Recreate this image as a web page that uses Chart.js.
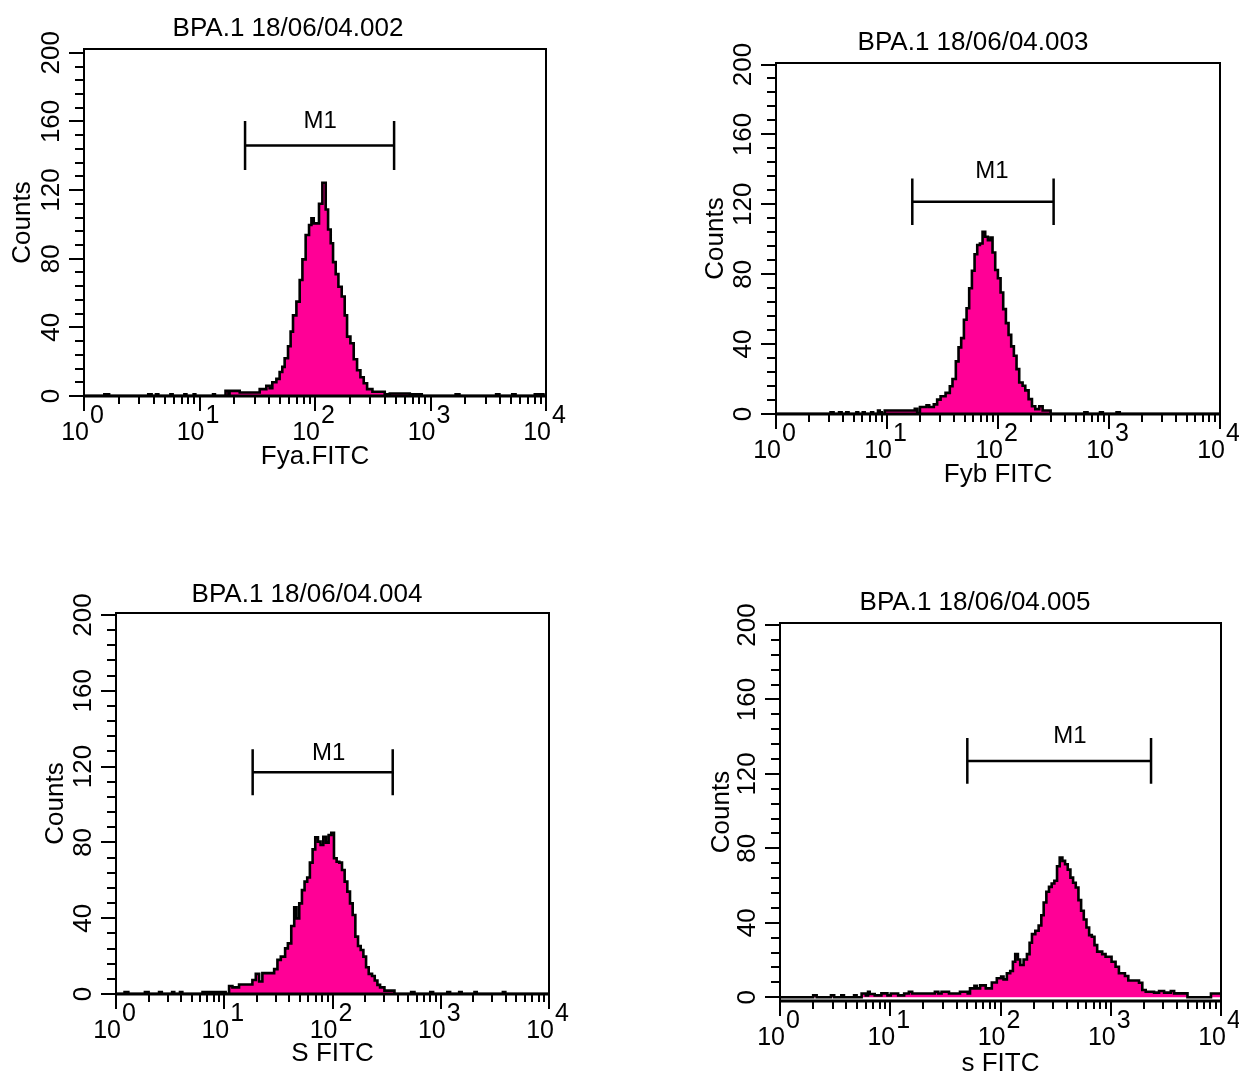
<!DOCTYPE html>
<html>
<head>
<meta charset="utf-8">
<script src="https://cdn.jsdelivr.net/npm/chart.js@4.4.0/dist/chart.umd.min.js"></script>
<style>
html, body { margin: 0; padding: 0; background: #fff; overflow: hidden; width: 1239px; height: 1076px; }
canvas { position: absolute; }
</style>
</head>
<body>
<canvas id="c1"></canvas>
<canvas id="c2"></canvas>
<canvas id="c3"></canvas>
<canvas id="c4"></canvas>
<script>
// ---------------- DATA ----------------
const panelTitles = ['BPA.1 18/06/04.002', 'BPA.1 18/06/04.003', 'BPA.1 18/06/04.004', 'BPA.1 18/06/04.005'];
const xAxisTitles = ['Fya.FITC', 'Fyb FITC', 'S FITC', 's FITC'];
const yAxisTitle = 'Counts';
const yTickValues = [0, 40, 80, 120, 160, 200];
const yMinorTickValues = [0, 8, 16, 24, 32, 40, 48, 56, 64, 72, 80, 88, 96, 104, 112, 120, 128, 136, 144, 152, 160, 168, 176, 184, 192, 200];
const xTickPowers = [0, 1, 2, 3, 4];
const xMinorMultipliers = [2, 3, 4, 5, 6, 7, 8, 9];

// Panel 1: Fya FITC (fluorescence channel value, counts)
const fyaX = [1, 1.5, 1.65, 3.6, 3.85, 4.2, 4.4, 5.6, 5.85, 7.4,
  7.7, 8.9, 9.2, 13.1, 13.6, 16.8, 17.8, 18.2, 22.3, 29.0,
  33.2, 37.9, 40.5, 42.7, 46.3, 49.4, 52.1, 54.6, 58.4, 61.5,
  64.5, 69.0, 73.7, 77.8, 83.0, 88.8, 93.1, 97.5, 108.3, 115.8,
  123.8, 129.8, 136.8, 143.3, 151.1, 159.5, 170.3, 180.8, 189.5, 202.6,
  216.4, 231.3, 247.3, 264.2, 282.5, 314.2, 401.6, 444, 662, 840,
  1650, 1780, 3700, 3950, 5100, 5450, 8000, 8600, 9000, 9500, 10000];
const fyaY = [0, 1, 0, 1, 0, 1, 0, 1, 0, 1,
  0, 1, 0, 1, 0, 3, 1, 3, 2, 2,
  4, 6, 4.5, 8, 10, 14, 17, 22, 29, 37.5,
  47, 55, 67.6, 79.6, 93.8, 99.6, 103.5, 100.6, 112, 124.3,
  108.7, 97, 89, 78, 71, 63.7, 58, 47, 34.6, 30.7,
  21.4, 15, 10.9, 7.4, 4, 2.5, 1, 1.5, 1, 0,
  1, 0, 1, 0, 1, 0, 1, 0, 1, 0, 0];

// Panel 2: Fyb FITC
const fybX = [1, 3.1, 3.3, 3.7, 3.9, 4.3, 4.5, 5.3, 5.5, 6.05,
  6.3, 7.2, 7.5, 8.3, 8.61, 8.98, 9.55, 17.8, 18.7, 19.8,
  22.7, 24.0, 26.4, 28.3, 30.4, 33.7, 36.8, 38.9, 41.7, 44.1,
  46.6, 49.3, 52.1, 55.0, 58.2, 61.5, 65.0, 68.7, 72.6, 76.7,
  81.1, 85.7, 89.3, 94.4, 99.8, 105.5, 111.4, 117.8, 124.5, 131.5,
  139.0, 146.9, 155.3, 166.6, 176.1, 188.7, 202.3, 216.6, 235.3, 252.4,
  298, 600, 640, 830, 880, 1170, 1250, 10000];
const fybY = [0, 1, 0, 1, 0, 1, 0, 1, 0, 1,
  0, 1, 0, 2, 1, 0, 2, 3, 0.5, 4,
  5, 4, 5.5, 8.2, 10.2, 12.1, 15.9, 20, 30.1, 38.1,
  43.4, 53.9, 60.5, 72, 82, 91.4, 96.7, 97.6, 104.3, 101.4,
  99.5, 101, 92.4, 82.4, 77.7, 69.5, 60, 52, 45.3, 38.7,
  33.3, 25.7, 18, 16.2, 13.5, 8.5, 4.4, 2.8, 4.4, 2,
  0, 1, 0, 1, 0, 1, 0, 0];

// Panel 3: S FITC
const sUpperX = [1, 1.2, 1.3, 1.85, 2.0, 2.5, 2.65, 3.3, 3.45, 3.9,
  4.1, 6.3, 8.95, 10.3, 11.08, 11.9, 13.7, 18.2, 19.56, 21.0,
  22.5, 28.9, 31.0, 33.3, 36.5, 38.7, 41.6, 44.3, 46.5, 49.3,
  52.2, 55.2, 58.4, 61.8, 65.5, 69.3, 73.4, 77.6, 82.2, 87.0,
  92.1, 97.5, 103.2, 109.2, 115.6, 122.4, 129.5, 137.1, 145.1, 153.6,
  162.6, 172.1, 182.2, 192.9, 204.2, 216.1, 232.0, 245.6, 260.0, 275.1,
  301.8, 373.6, 532.6, 571.6, 636.6, 800, 850, 1150, 1220, 1480,
  1560, 2050, 2150, 3750, 3950, 10000];
const sUpperY = [0, 1, 0, 1, 0, 1, 0, 1, 0, 1,
  0, 1, 1, 0, 4.2, 3.5, 5, 7.4, 10.6, 6.6,
  11, 13.1, 18, 19.7, 24.1, 26.7, 35.9, 45.7, 39.9, 47.8,
  54.8, 59.3, 61.5, 69.3, 76.3, 82.7, 80.4, 78.6, 83, 79.9,
  83.9, 85.1, 71.6, 69.8, 69.3, 65.4, 59.3, 54, 47.8, 41.7,
  30.3, 25.3, 23.2, 19.7, 14.1, 10.6, 9.5, 7.1, 4.8, 3.5,
  1.8, 0, 1, 0, 0, 1, 0, 1, 0, 1,
  0, 1, 0, 1, 0, 0];

// Panel 4: s FITC
const sLowerX = [1, 2.0, 2.15, 2.9, 3.1, 3.6, 3.8, 4.7, 4.95, 5.5,
  6.0, 6.29, 6.51, 7.23, 8.31, 9.43, 10.11, 11.79, 13.37, 14.75,
  15.81, 25.4, 27.3, 29.2, 34.1, 42.9, 50.4, 52.9, 58.0, 60.9,
  65.3, 73.5, 83.4, 92.6, 101.4, 106.5, 114.2, 122.5, 129.5, 136.0,
  143.8, 151.0, 162.0, 173.7, 183.6, 192.9, 206.9, 221.8, 234.6, 246.4,
  260.5, 275.4, 291.2, 308.0, 325.7, 344.4, 364.2, 385.1, 407.3, 430.7,
  455.4, 481.6, 509.3, 538.5, 569.5, 602.2, 636.8, 673.4, 712.1, 753.1,
  836.5, 897.3, 962.0, 1017, 1106, 1186, 1345, 1443, 1804, 1933,
  2076, 2471, 2743, 3047, 3506, 3757, 4966, 8110, 9650, 10000];
const sLowerY = [0, 1, 0, 1, 0, 1, 0, 1, 0, 2,
  1, 3, 1.8, 1, 2.1, 1, 2, 1, 2, 3,
  2, 3, 2, 3, 2, 3, 2, 4.8, 6.2, 4.8,
  6.4, 4.8, 7.9, 10.2, 11.1, 9.6, 12.9, 14.1, 19.1, 23.2,
  20.3, 17.3, 20.3, 23.2, 29.3, 33.9, 35.7, 38.6, 44.1, 50.9,
  56.7, 59.3, 61.1, 62.6, 70.4, 75.1, 73.3, 71.5, 68.6, 64.3,
  61.5, 59, 52.2, 46.5, 41.8, 37.5, 33.4, 32.5, 28, 24.5,
  23.2, 21.8, 21.8, 19.1, 16.4, 12.9, 11.4, 9, 7.8, 3.9,
  3, 2.5, 3.4, 2.5, 3.4, 2.1, 0, 2, 2, 2];

// M1 marker regions (low / high fluorescence bound, level in counts)
const m1Low = [24.8, 16.9, 18.3, 50];
const m1High = [484, 317, 360, 2320];
const m1Level = [146, 121.5, 117, 127];
const m1BarHalf = [14.3, 13.3, 12.1, 12.3];
const m1LabelX = [111, 88, 92, 427];
const m1LabelY = [160, 139, 127, 140];
const m1Text = 'M1';

const seriesX = [fyaX, fybX, sUpperX, sLowerX];
const seriesY = [fyaY, fybY, sUpperY, sLowerY];

// ---------------- LAYOUT ----------------
const FONT = "'Liberation Sans', Arial, sans-serif";
const layoutSpec = [
  { id: 'c1', left: 0,   top: 0,   w: 576, h: 480, yW: 84, rW: 30, tPadT: 16, tPadB: 7, xH: 84, xtPad: 10, ytPad: 10, ymin: 0,  ymax: 202.2 },
  { id: 'c2', left: 700, top: 10,  w: 546, h: 490, yW: 76, rW: 26, tPadT: 20, tPadB: 7, xH: 86, xtPad: 12, ytPad: 3,  ymin: 0,  ymax: 200.86 },
  { id: 'c3', left: 30,  top: 560, w: 554, h: 510, yW: 86, rW: 35, tPadT: 22, tPadB: 5, xH: 76, xtPad: 3,  ytPad: 13, ymin: 0,  ymax: 201.05 },
  { id: 'c4', left: 705, top: 570, w: 540, h: 510, yW: 75, rW: 24, tPadT: 20, tPadB: 7, xH: 79, xtPad: 3,  ytPad: 4,  ymin: -2, ymax: 201.07 }
];

const decor = {
  id: 'decor',
  afterDraw(chart) {
    const o = chart.options.plugins.decor;
    const ctx = chart.ctx;
    const ca = chart.chartArea;
    const xs = chart.scales.x, ys = chart.scales.y;
    ctx.save();
    ctx.strokeStyle = '#000';
    ctx.fillStyle = '#000';
    ctx.lineCap = 'butt';
    // frame
    ctx.lineWidth = 2;
    ctx.beginPath();
    ctx.moveTo(ca.left, ca.bottom);
    ctx.lineTo(ca.left, ca.top);
    ctx.lineTo(ca.right, ca.top);
    ctx.lineTo(ca.right, ca.bottom);
    ctx.stroke();
    ctx.lineWidth = 3;
    ctx.beginPath();
    ctx.moveTo(ca.left - 1, ca.bottom);
    ctx.lineTo(ca.right + 1, ca.bottom);
    ctx.stroke();
    // y ticks
    ctx.lineWidth = 2;
    yMinorTickValues.forEach(v => {
      const py = Math.round(ys.getPixelForValue(v));
      const len = yTickValues.includes(v) ? 15 : 9;
      ctx.beginPath();
      ctx.moveTo(ca.left - len, py);
      ctx.lineTo(ca.left, py);
      ctx.stroke();
    });
    // y labels (rotated)
    ctx.font = '26px ' + FONT;
    ctx.textAlign = 'center';
    ctx.textBaseline = 'middle';
    yTickValues.forEach(v => {
      const py = ys.getPixelForValue(v);
      ctx.save();
      ctx.translate(ca.left - 32, py);
      ctx.rotate(-Math.PI / 2);
      ctx.fillText(String(v), 0, 0);
      ctx.restore();
    });
    // x ticks
    xTickPowers.forEach(p => {
      const base = Math.pow(10, p);
      const px = Math.round(xs.getPixelForValue(base));
      ctx.beginPath();
      ctx.moveTo(px, ca.bottom);
      ctx.lineTo(px, ca.bottom + 15);
      ctx.stroke();
      if (p < 4) {
        xMinorMultipliers.forEach(m => {
          const mx = Math.round(xs.getPixelForValue(base * m));
          ctx.beginPath();
          ctx.moveTo(mx, ca.bottom);
          ctx.lineTo(mx, ca.bottom + 8);
          ctx.stroke();
        });
      }
    });
    // x labels 10^p
    ctx.font = '25px ' + FONT;
    ctx.textAlign = 'left';
    ctx.textBaseline = 'alphabetic';
    xTickPowers.forEach(p => {
      const px = xs.getPixelForValue(Math.pow(10, p));
      const w10 = ctx.measureText('10').width;
      const ws = ctx.measureText(String(p)).width;
      const start = px - 2 - (w10 + ws) / 2;
      ctx.fillText('10', start, ca.bottom + 44);
      ctx.fillText(String(p), start + w10 + 1, ca.bottom + 27);
    });
    // M1 label
    ctx.font = '24px ' + FONT;
    ctx.textAlign = 'center';
    ctx.textBaseline = 'middle';
    ctx.fillText(m1Text, xs.getPixelForValue(o.labelX), ys.getPixelForValue(o.labelY));
    ctx.restore();
  }
};

layoutSpec.forEach((L, i) => {
  const cv = document.getElementById(L.id);
  cv.width = L.w;
  cv.height = L.h;
  cv.style.left = L.left + 'px';
  cv.style.top = L.top + 'px';
  const hist = seriesX[i].map((v, k) => ({ x: v, y: seriesY[i][k] }));
  const lo = m1Low[i], hi = m1High[i], lv = m1Level[i], hb = m1BarHalf[i];
  const bracket = [
    { x: lo, y: lv + hb }, { x: lo, y: lv - hb }, { x: lo, y: lv },
    { x: hi, y: lv }, { x: hi, y: lv + hb }, { x: hi, y: lv - hb }
  ];
  new Chart(cv, {
    type: 'line',
    data: {
      datasets: [
        {
          label: xAxisTitles[i],
          data: hist,
          stepped: true,
          fill: 'origin',
          backgroundColor: '#ff0096',
          borderColor: '#000000',
          borderWidth: 2.6,
          pointRadius: 0,
          xAxisID: 'x',
          yAxisID: 'y'
        },
        {
          label: 'M1',
          data: bracket,
          fill: false,
          borderColor: '#000000',
          borderWidth: 2.5,
          pointRadius: 0,
          tension: 0,
          xAxisID: 'x',
          yAxisID: 'y'
        }
      ]
    },
    options: {
      responsive: false,
      animation: false,
      devicePixelRatio: 1,
      layout: { padding: 0 },
      plugins: {
        legend: { display: false },
        tooltip: { enabled: false },
        title: {
          display: true,
          text: panelTitles[i],
          color: '#000',
          font: { family: FONT, size: 26, weight: 'normal', lineHeight: 1 },
          padding: { top: L.tPadT, bottom: L.tPadB }
        },
        decor: { labelX: m1LabelX[i], labelY: m1LabelY[i] }
      },
      scales: {
        x: {
          type: 'logarithmic',
          position: 'bottom',
          min: 1,
          max: 10000,
          grid: { display: false },
          border: { display: false },
          ticks: { display: false },
          title: {
            display: true, text: xAxisTitles[i], color: '#000',
            font: { family: FONT, size: 26, lineHeight: 1 },
            padding: { top: 0, bottom: L.xtPad }
          },
          afterFit: s => { s.height = L.xH; }
        },
        y: {
          type: 'linear',
          position: 'left',
          min: L.ymin,
          max: L.ymax,
          grid: { display: false },
          border: { display: false },
          ticks: { display: false },
          title: {
            display: true, text: yAxisTitle, color: '#000',
            font: { family: FONT, size: 26, lineHeight: 1 },
            padding: { top: L.ytPad, bottom: 0 }
          },
          afterFit: s => { s.width = L.yW; }
        },
        yRight: {
          type: 'linear',
          position: 'right',
          display: true,
          grid: { display: false },
          border: { display: false },
          ticks: { display: false },
          afterFit: s => { s.width = L.rW; }
        }
      }
    },
    plugins: [decor]
  });
});
</script>
</body>
</html>
